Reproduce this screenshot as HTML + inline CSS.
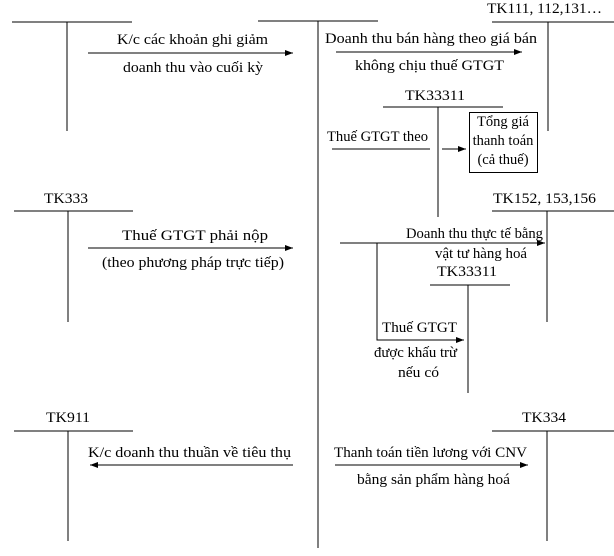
<!DOCTYPE html>
<html><head><meta charset="utf-8"><style>
html,body{margin:0;padding:0;background:#fff;}
svg text{font-family:"Liberation Serif",serif;font-size:14.5px;fill:#000;}
</style></head><body>
<svg width="614" height="551" viewBox="0 0 614 551" xmlns="http://www.w3.org/2000/svg">
<defs><marker id="a" markerWidth="8" markerHeight="6" refX="8" refY="3" orient="auto" markerUnits="userSpaceOnUse"><path d="M0,0 L8,3 L0,6 Z" fill="#000"/></marker></defs>
<g stroke="#000" stroke-width="1" fill="none">
<line x1="12" y1="22" x2="132" y2="22"/><line x1="67" y1="22" x2="67" y2="131"/>
<line x1="258" y1="21" x2="378" y2="21"/><line x1="318" y1="21" x2="318" y2="548"/>
<line x1="492" y1="22" x2="614" y2="22"/><line x1="548" y1="22" x2="548" y2="131"/>
<line x1="88" y1="53" x2="293" y2="53" marker-end="url(#a)"/>
<line x1="336" y1="52" x2="522" y2="52" marker-end="url(#a)"/>
<line x1="383" y1="107" x2="503" y2="107"/><line x1="438" y1="107" x2="438" y2="217"/>
<line x1="332" y1="149" x2="430" y2="149"/>
<line x1="442" y1="149" x2="466" y2="149" marker-end="url(#a)"/>
<rect x="469.5" y="112.5" width="68" height="60"/>
<line x1="14" y1="211" x2="133" y2="211"/><line x1="68" y1="211" x2="68" y2="322"/>
<line x1="88" y1="248" x2="293" y2="248" marker-end="url(#a)"/>
<line x1="492" y1="211" x2="614" y2="211"/><line x1="547" y1="211" x2="547" y2="322"/>
<line x1="340" y1="243" x2="545" y2="243" marker-end="url(#a)"/>
<polyline points="377,243 377,340 464,340" marker-end="url(#a)"/>
<line x1="430" y1="285" x2="510" y2="285"/><line x1="468" y1="285" x2="468" y2="393"/>
<line x1="14" y1="431" x2="133" y2="431"/><line x1="68" y1="431" x2="68" y2="541"/>
<line x1="293" y1="465" x2="90" y2="465" marker-end="url(#a)"/>
<line x1="492" y1="431" x2="614" y2="431"/><line x1="547" y1="431" x2="547" y2="541"/>
<line x1="335" y1="465" x2="528" y2="465" marker-end="url(#a)"/>
</g>
<g lengthAdjust="spacingAndGlyphs">
<text x="117" y="44" textLength="151" lengthAdjust="spacingAndGlyphs">K/c các khoản ghi giảm</text>
<text x="123" y="72" textLength="140" lengthAdjust="spacingAndGlyphs">doanh thu vào cuối kỳ</text>
<text x="487" y="13" textLength="115" lengthAdjust="spacingAndGlyphs">TK111, 112,131…</text>
<text x="325" y="43" textLength="212" lengthAdjust="spacingAndGlyphs">Doanh thu bán hàng theo giá bán</text>
<text x="355" y="70" textLength="149" lengthAdjust="spacingAndGlyphs">không chịu thuế GTGT</text>
<text x="405" y="100" textLength="60" lengthAdjust="spacingAndGlyphs">TK33311</text>
<text x="327" y="141" textLength="101" lengthAdjust="spacingAndGlyphs">Thuế GTGT theo</text>
<text x="503" y="126" text-anchor="middle" font-size="14">Tổng giá</text>
<text x="503" y="145" text-anchor="middle" font-size="14">thanh toán</text>
<text x="503" y="164" text-anchor="middle" font-size="14">(cả thuế)</text>
<text x="44" y="203" textLength="44" lengthAdjust="spacingAndGlyphs">TK333</text>
<text x="122" y="240" textLength="146" lengthAdjust="spacingAndGlyphs">Thuế GTGT phải nộp</text>
<text x="102" y="267" textLength="182" lengthAdjust="spacingAndGlyphs">(theo phương pháp trực tiếp)</text>
<text x="493" y="203" textLength="103" lengthAdjust="spacingAndGlyphs">TK152, 153,156</text>
<text x="406" y="238" textLength="137" lengthAdjust="spacingAndGlyphs">Doanh thu thực tế bằng</text>
<text x="435" y="258" textLength="92" lengthAdjust="spacingAndGlyphs">vật tư hàng hoá</text>
<text x="437" y="276" textLength="60" lengthAdjust="spacingAndGlyphs">TK33311</text>
<text x="382" y="332" textLength="75" lengthAdjust="spacingAndGlyphs">Thuế GTGT</text>
<text x="374" y="357" textLength="83" lengthAdjust="spacingAndGlyphs">được khấu trừ</text>
<text x="398" y="377" textLength="41" lengthAdjust="spacingAndGlyphs">nếu có</text>
<text x="46" y="422" textLength="44" lengthAdjust="spacingAndGlyphs">TK911</text>
<text x="88" y="457" textLength="203" lengthAdjust="spacingAndGlyphs">K/c doanh thu thuần về tiêu thụ</text>
<text x="522" y="422" textLength="44" lengthAdjust="spacingAndGlyphs">TK334</text>
<text x="334" y="457" textLength="193" lengthAdjust="spacingAndGlyphs">Thanh toán tiền lương với CNV</text>
<text x="357" y="484" textLength="153" lengthAdjust="spacingAndGlyphs">bằng sản phẩm hàng hoá</text>
</g>
</svg>
</body></html>
